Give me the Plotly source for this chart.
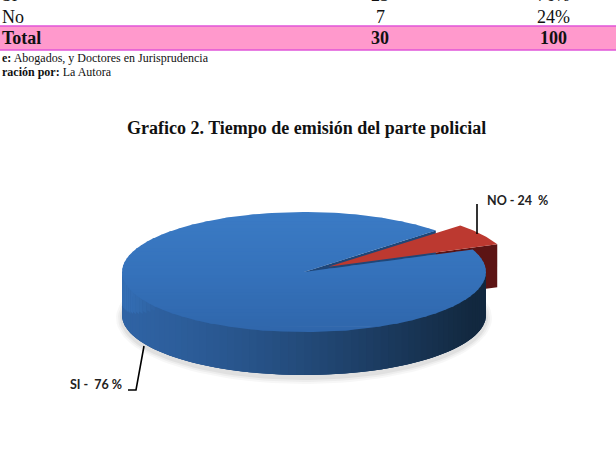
import numpy as np
import plotly.graph_objects as go

# ---------------- data ----------------
table_rows = ["Si", "No", "Total"]
table_freq = ["23", "7", "30"]
table_pct = ["76%", "24%", "100"]
source_line = "<b>e:</b> Abogados, y Doctores en Jurisprudencia"
author_line = "<b>ración por:</b> La Autora"
chart_title = "<b>Grafico 2. Tiempo de emisión del parte policial</b>"

pie_labels = ["SI", "NO"]
pie_label_text = ["SI -\u00a0\u00a076 %", "NO - 24\u00a0\u00a0%"]
pie_shares_drawn = [94, 6]   # slice sizes as drawn in the picture

# ---------------- geometry / style ----------------
W, H = 616, 454
cx, cy, rx, ry, depth = 304, 272, 182, 60, 43
start_deg = 22.0           # where the NO slice starts (counter-clockwise)
explode = 0.16

def pt(theta_deg, ox=0.0, oy=0.0, dz=0.0):
    t = np.radians(theta_deg)
    return cx + ox + rx * np.cos(t), cy + oy - ry * np.sin(t) + dz

def rgb(c):
    return np.array([int(c[i:i+2], 16) for i in (1, 3, 5)], dtype=float)

def lerp(c1, c2, t):
    t = min(1.0, max(0.0, t))
    c = (rgb(c1) + (rgb(c2) - rgb(c1)) * t).round().astype(int)
    return "#%02x%02x%02x" % tuple(c)

def clip_half(poly_pts, yv, keep_below):
    out = []
    n = len(poly_pts)
    inside = (lambda p: p[1] >= yv) if keep_below else (lambda p: p[1] <= yv)
    for i in range(n):
        a, b = poly_pts[i], poly_pts[(i + 1) % n]
        ia, ib = inside(a), inside(b)
        if ia:
            out.append(a)
        if ia != ib:
            t = (yv - a[1]) / (b[1] - a[1])
            out.append((a[0] + t * (b[0] - a[0]), yv))
    return out

fig = go.Figure()

def poly(xs, ys, color, lw=0.0):
    fig.add_trace(go.Scatter(x=list(xs) + [xs[0]], y=list(ys) + [ys[0]], mode="lines",
                             fill="toself", fillcolor=color,
                             line=dict(color=color, width=lw),
                             hoverinfo="skip", showlegend=False))

total = sum(pie_shares_drawn)
no_span = 360.0 * pie_shares_drawn[1] / total
no_a0, no_a1 = start_deg, start_deg + no_span
si_a0, si_a1 = no_a1, start_deg + 360.0
mid = np.radians((no_a0 + no_a1) / 2)
ox, oy = explode * rx * np.cos(mid), -explode * ry * np.sin(mid)

# soft shadow
for k, a in enumerate([0.03, 0.04, 0.05]):
    g = 6 - 2 * k
    th = np.linspace(0, 360, 120)
    xs = [cx + (rx + g) * np.cos(np.radians(t)) for t in th]
    ys = [cy + depth + 3 - (ry + g) * np.sin(np.radians(t)) for t in th]
    poly(xs, ys, "rgba(0,0,0,%.3f)" % a)

# red radial side face at NO start edge
ax_, ay_ = cx + ox, cy + oy
rx0, ry0 = pt(no_a0, ox, oy)
poly([ax_, rx0, rx0, ax_], [ay_, ry0, ry0 + depth, ay_ + depth], "#5c1414")

# blue cut face at SI start edge
bx, by = pt(si_a0)
poly([cx, bx, bx, cx], [cy, by, by + depth, cy + depth], "#1f4677")

# blue front wall: base + overlapping shaded strips
thb = np.linspace(180, 360, 120)
wx = [pt(t)[0] for t in thb] + [pt(t)[0] for t in thb[::-1]]
wy = [pt(t)[1] for t in thb] + [pt(t)[1] + depth for t in thb[::-1]]
poly(wx, wy, "#22487a")
N = 72
ths = np.linspace(180, 360, N + 1)
for i in range(N):
    t0, t1 = ths[i], ths[min(i + 2, N)]
    seg = np.linspace(t0, t1, 4)
    xs = [pt(t)[0] for t in seg] + [pt(t)[0] for t in seg[::-1]]
    ys = [pt(t)[1] - 1 for t in seg] + [pt(t)[1] + depth for t in seg[::-1]]
    frac = (pt((ths[i] + ths[i + 1]) / 2)[0] - (cx - rx)) / (2 * rx)
    col = lerp("#2f63a4", "#12283f", frac ** 1.3 * 1.05)
    poly(xs, ys, col)
    # lighter upper part of the wall on the far left (light from upper left)
    if frac < 0.1:
        w = 1 - frac / 0.1
        up = lerp(col, "#3470b7", w)
        ys2 = [pt(t)[1] - 1 for t in seg] + [pt(t)[1] + depth * 0.68 * w for t in seg[::-1]]
        poly(xs, ys2, up)

# blue top face, horizontally banded for vertical shading
th = np.linspace(si_a0, si_a1, 240)
top_pts = [(cx, cy)] + [pt(t) for t in th]
y_top, y_bot = cy - ry - 1, cy + ry + 1
NB = 36
edges = np.linspace(y_top, y_bot, NB + 1)
for k in range(NB):
    ya, yb = edges[k], min(edges[k + 1] + 0.8, y_bot)
    band = clip_half(clip_half(top_pts, ya, True), yb, False)
    if len(band) < 3:
        continue
    f = (0.5 * (edges[k] + edges[k + 1]) - y_top) / (y_bot - y_top)
    col = lerp("#3b7bc5", "#3572bb", f / 0.5) if f < 0.5 else lerp("#3572bb", "#2f66ab", (f - 0.5) / 0.5)
    poly([p[0] for p in band], [p[1] for p in band], col)

# red top face
th = np.linspace(no_a0, no_a1, 40)
rxs = [ax_] + [pt(t, ox, oy)[0] for t in th]
rys = [ay_] + [pt(t, ox, oy)[1] for t in th]
poly(rxs, rys, "#bc3930")

# leader lines
fig.add_trace(go.Scatter(x=[477, 477], y=[204, 234], mode="lines",
                         line=dict(color="black", width=1.6), hoverinfo="skip", showlegend=False))
fig.add_trace(go.Scatter(x=[144, 136, 128], y=[346, 390, 390], mode="lines",
                         line=dict(color="black", width=1.6), hoverinfo="skip", showlegend=False))

shapes = [
    dict(type="rect", xref="x", yref="y", x0=-2, x1=W + 2, y0=26, y1=50,
         fillcolor="#ff99cc", line=dict(width=0), layer="below"),
    dict(type="line", xref="x", yref="y", x0=-2, x1=W + 2, y0=26, y1=26,
         line=dict(color="#e055d8", width=1.5)),
    dict(type="line", xref="x", yref="y", x0=-2, x1=W + 2, y0=50, y1=50,
         line=dict(color="#e055d8", width=1.5)),
]

def py(ypix):
    return 1 - ypix / H

def px(xpix):
    return xpix / W

serif = "Liberation Serif"
ann = []
row_y = [-4.5, 17, 38]
for i, (r, f, p) in enumerate(zip(table_rows, table_freq, table_pct)):
    bold = r == "Total"
    wrap = (lambda s: "<b>%s</b>" % s) if bold else (lambda s: s)
    ann.append(dict(x=px(0), y=py(row_y[i]), text=wrap(r), xanchor="left"))
    ann.append(dict(x=px(380), y=py(row_y[i]), text=wrap(f), xanchor="center"))
    ann.append(dict(x=px(553), y=py(row_y[i]), text=wrap(p), xanchor="center"))
for a in ann:
    a.update(xref="paper", yref="paper", yanchor="middle", showarrow=False,
             font=dict(family=serif, size=18, color="#111"))
ann += [
    dict(x=0, y=58, text=source_line, xanchor="left"),
    dict(x=0, y=72, text=author_line, xanchor="left"),
]
for a in ann[-2:]:
    a.update(xref="x", yref="y", yanchor="middle", showarrow=False,
             font=dict(family=serif, size=12, color="#111"))
ann.append(dict(x=306, y=128, text=chart_title, xref="x", yref="y", xanchor="center",
                yanchor="middle", showarrow=False, font=dict(family=serif, size=18, color="#111")))
ann.append(dict(x=485, y=200, text="<b>%s</b>" % pie_label_text[1], xref="x", yref="y",
                xanchor="left", yanchor="middle", showarrow=False,
                font=dict(family="Lato", size=12.5, color="#222")))
ann.append(dict(x=124, y=384, text="<b>%s</b>" % pie_label_text[0], xref="x", yref="y",
                xanchor="right", yanchor="middle", showarrow=False,
                font=dict(family="Lato", size=12.5, color="#222")))

fig.update_layout(
    width=W, height=H, autosize=False,
    margin=dict(l=0, r=0, t=0, b=0, pad=0),
    paper_bgcolor="white", plot_bgcolor="white",
    xaxis=dict(range=[0, W], visible=False, fixedrange=True),
    yaxis=dict(range=[H, 0], visible=False, fixedrange=True),
    shapes=shapes, annotations=ann, showlegend=False,
)
fig.write_html("out.html", config={"displayModeBar": False})
